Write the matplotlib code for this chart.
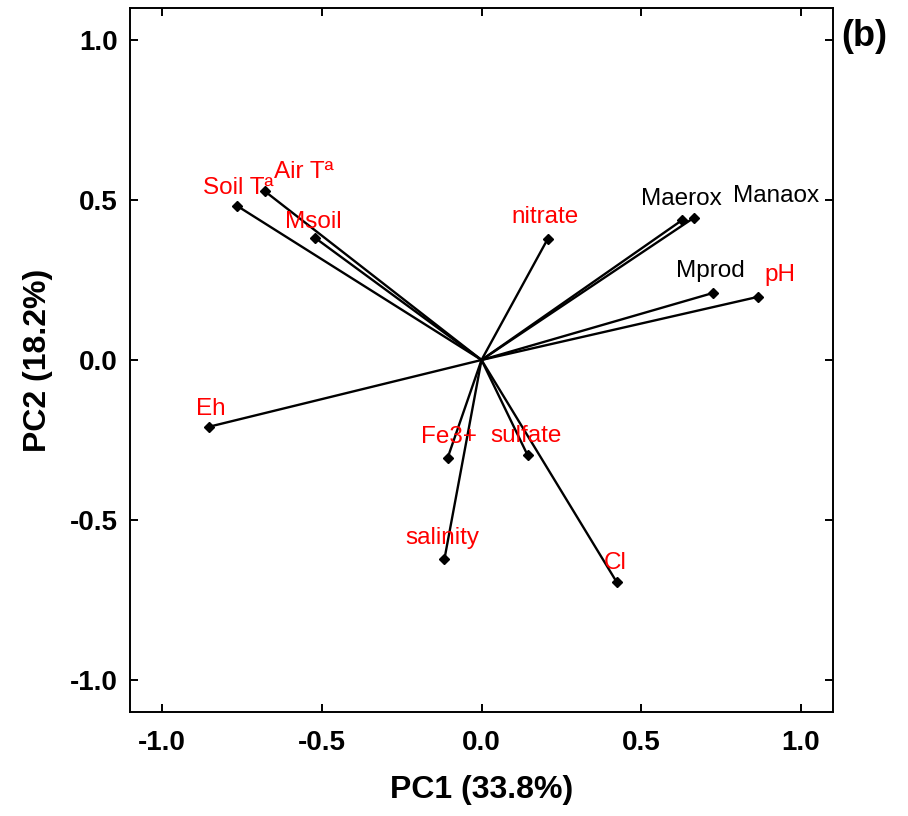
import numpy as np
import matplotlib
matplotlib.use("Agg")
import matplotlib.pyplot as plt

plt.rcParams['font.family'] = ['Liberation Sans', 'DejaVu Sans']

# loadings
variables = ['Soil Tª', 'Air Tª', 'Msoil', 'nitrate', 'Maerox', 'Manaox',
             'Mprod', 'pH', 'Eh', 'Fe3+', 'sulfate', 'salinity', 'Cl']
pc1 = [-0.764, -0.679, -0.520, 0.207, 0.629, 0.664,
       0.723, 0.864, -0.854, -0.106, 0.144, -0.116, 0.423]
pc2 = [0.481, 0.528, 0.381, 0.378, 0.438, 0.444,
       0.209, 0.197, -0.209, -0.306, -0.297, -0.622, -0.694]
label_colors = ['red', 'red', 'red', 'red', 'black', 'black',
                'black', 'red', 'red', 'red', 'red', 'red', 'red']
# label offsets in points (left, baseline)
offsets = [(-25, 8.6), (7, 9.4), (-21.6, 7.2), (-26, 11.5), (-30, 10.8),
           (28, 11.5), (-26, 11.5), (5, 11.5), (-9.4, 8.6), (-19.4, 10.8),
           (-26.6, 9.4), (-28, 10.8), (-9.4, 9.4)]

fig = plt.figure(figsize=(9.08, 8.16), dpi=100)
ax = fig.add_axes([0.1432, 0.1275, 0.7742, 0.8627])

for i in range(len(variables)):
    ax.plot([0, pc1[i]], [0, pc2[i]], color='black', lw=1.7, zorder=2)
    ax.plot(pc1[i], pc2[i], marker='D', color='black', markersize=5.5, zorder=3)
    ax.annotate(variables[i], (pc1[i], pc2[i]), xytext=offsets[i],
                textcoords='offset points', ha='left', va='baseline',
                color=label_colors[i], fontsize=17.5)

ax.set_xlim(-1.1, 1.1)
ax.set_ylim(-1.1, 1.1)
ticks = [-1.0, -0.5, 0.0, 0.5, 1.0]
ax.set_xticks(ticks)
ax.set_yticks(ticks)
ax.set_xticklabels(['%.1f' % t for t in ticks], fontsize=20, fontweight='bold')
ax.set_yticklabels(['%.1f' % t for t in ticks], fontsize=20, fontweight='bold')
ax.tick_params(direction='in', length=6, width=1.4, top=True, right=True)
ax.tick_params(axis='x', pad=13)
ax.tick_params(axis='y', pad=9)
for s in ax.spines.values():
    s.set_linewidth(1.4)

ax.set_xlabel('PC1 (33.8%)', fontsize=23, fontweight='bold')
ax.set_ylabel('PC2 (18.2%)', fontsize=23, fontweight='bold')
ax.xaxis.set_label_coords(0.5, -0.09)
ax.yaxis.set_label_coords(-0.11, 0.5)

fig.text(0.952, 0.955, '(b)', fontsize=26, fontweight='bold', ha='center', va='center')

fig.savefig('out.png', dpi=100)
